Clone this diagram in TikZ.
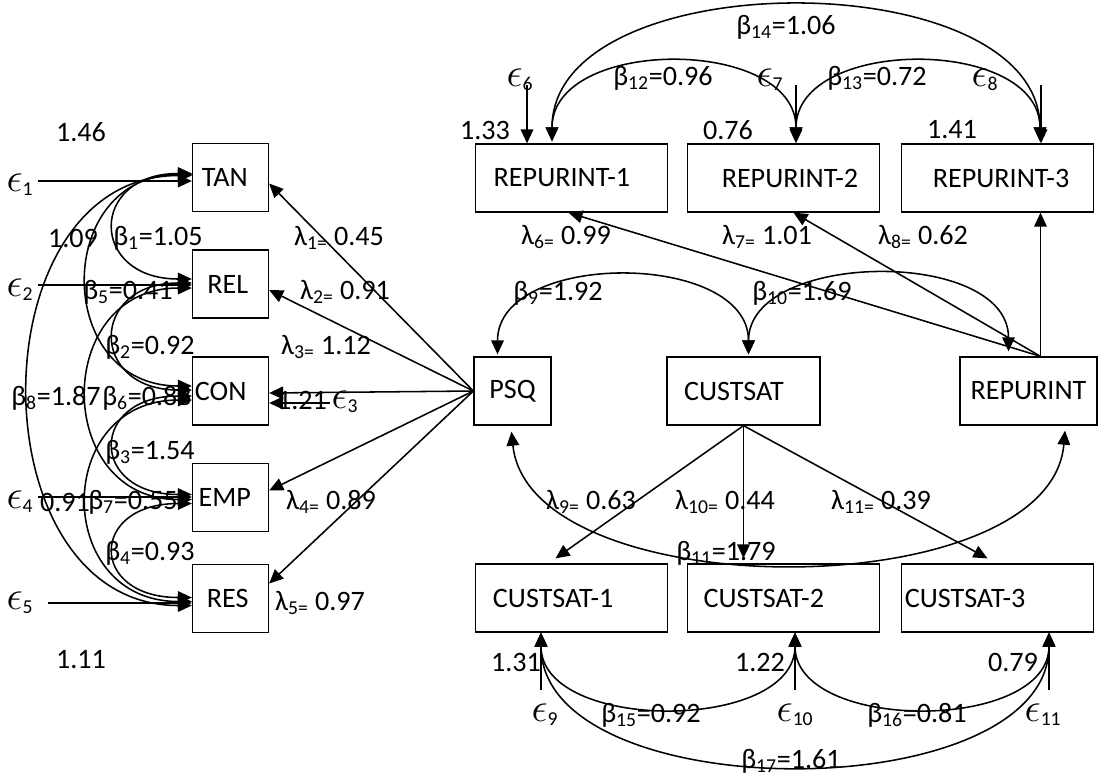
\documentclass[tikz,border=0pt]{standalone}
\usepackage{fontspec}
\usepackage{graphicx}
\setmainfont{Carlito}
\usetikzlibrary{arrows.meta,calc}

\newcommand\epsl[1]{\scalebox{1.4}{$\epsilon$}\textsubscript{#1}}
\newcommand\offtext[2]{\makebox[0pt]{\hspace*{#1}#2\hspace*{-#1}}}

\begin{document}
\begin{tikzpicture}[x=0.025cm, y=-0.025cm, font=\fontsize{20}{24}\selectfont,
  box/.style={draw, line width=0.9pt, minimum height=1.7cm, inner sep=0pt},
  item/.style={box, minimum width=1.9cm},
  ind/.style={box, minimum width=4.8cm},
  lab/.style={inner sep=0pt},
  arr/.style={-{Triangle[length=10pt,width=9pt]}, line width=1.1pt},
  cov/.style={{Triangle[length=10pt,width=9pt]}-{Triangle[length=10pt,width=9pt]}, line width=1.1pt}]

\useasboundingbox (0,0) rectangle (1103,778);

% service quality items
\node[item] (TAN) at (230.5,177.5) {\offtext{-4pt}{TAN}};
\node[item] (REL) at (230.5,284) {\offtext{-2pt}{REL}};
\node[item] (CON) at (230.5,391) {\offtext{-7pt}{CON}};
\node[item] (EMP) at (230.5,497.5) {\offtext{-4pt}{EMP}};
\node[item] (RES) at (230.5,598.5) {\offtext{-2pt}{RES}};

% constructs
\node[box, minimum width=1.925cm] (PSQ) at (512.5,391) {PSQ};
\node[box, minimum width=3.825cm] (CUSTSAT) at (743.5,391) {\offtext{-6.8pt}{CUSTSAT}};
\node[box, minimum width=3.425cm] (REPURINT) at (1028.5,391) {REPURINT};

% indicators
\node[ind] (R1) at (571.5,178) {\offtext{-6.8pt}{REPURINT-1}};
\node[ind] (R2) at (783.5,178) {\offtext{4.6pt}{REPURINT-2}};
\node[ind] (R3) at (997.5,178) {\offtext{2.5pt}{REPURINT-3}};
\node[ind] (C1) at (571.5,598) {\offtext{-13pt}{CUSTSAT-1}};
\node[ind] (C2) at (783.5,598) {\offtext{-14pt}{CUSTSAT-2}};
\node[ind] (C3) at (997.5,598) {\offtext{-23pt}{CUSTSAT-3}};

% error terms, left
\node[lab] (e1) at (20,185) {\epsl{1}};
\node[lab] (e2) at (20,290) {\epsl{2}};
\node[lab] (e3) at (345,402) {\epsl{3}};
\node[lab] (e4) at (20,502) {\epsl{4}};
\node[lab] (e5) at (20,603) {\epsl{5}};
\coordinate (s1) at (38,181);
\coordinate (s2) at (38,285);
\coordinate (s3) at (330,403);
\coordinate (s4) at (38,497);
\coordinate (s5) at (48,603);
\draw[arr] (s1) -- (s1 -| TAN.west);
\draw[arr] (s2) -- (s2 -| REL.west);
\draw[arr] (s3) -- (s3 -| CON.east);
\draw[arr] (s4) -- (s4 -| EMP.west);
\draw[arr] (s5) -- (s5 -| RES.west);

% error terms, right
\node[lab] (e6) at (520,80) {\epsl{6}};
\node[lab] (e7) at (770,80) {\epsl{7}};
\node[lab] (e8) at (985,80) {\epsl{8}};
\node[lab] (e9) at (545,715) {\epsl{9}};
\node[lab] (e10) at (795,715) {\epsl{10}};
\node[lab] (e11) at (1043,715) {\epsl{11}};
\coordinate (s6) at (527,85);
\coordinate (s7) at (796,85);
\coordinate (s8) at (1041,85);
\coordinate (s9) at (541,690);
\coordinate (s10) at (795,690);
\coordinate (s11) at (1049,690);
\draw[arr] (s6) -- (s6 |- R1.north);
\draw[arr] (s7) -- (s7 |- R2.north);
\draw[arr] (s8) -- (s8 |- R3.north);
\draw[arr] (s9) -- (s9 |- C1.south);
\draw[arr] (s10) -- (s10 |- C2.south);
\draw[arr] (s11) -- (s11 |- C3.south);

% error variances
\node[lab] (var1) at (81,132) {1.46};
\node[lab] (var2) at (73,238) {1.09};
\node[lab] (var3) at (302,400) {1.21};
\node[lab] (var4) at (65,502) {0.91};
\node[lab] (var5) at (81,660) {1.11};
\node[lab] (var6) at (485,130) {1.33};
\node[lab] (var7) at (728,130) {0.76};
\node[lab] (var8) at (952,130) {1.41};
\node[lab] (var9) at (516,662) {1.31};
\node[lab] (var10) at (760,662) {1.22};
\node[lab] (var11) at (1013,662) {0.79};

% loadings
\draw[arr] (PSQ.west) -- ($(TAN.east)+(0,6)$);
\draw[arr] (PSQ.west) -- ($(REL.east)+(0,6)$);
\draw[arr] (PSQ.west) -- ($(CON.east)+(0,2)$);
\draw[arr] (PSQ.west) -- ($(EMP.east)+(0,-7)$);
\draw[arr] (PSQ.west) -- ($(RES.east)+(0,-15)$);
\coordinate (rtop) at ($(REPURINT.north)+(12,0)$);
\draw[arr] (rtop) -- ($(R1.south)+(-3,0)$);
\draw[arr] (rtop) -- ($(R2.south)+(10,0)$);
\draw[arr] (rtop) -- (rtop |- R3.south);
\draw[arr] (CUSTSAT.south) -- ($(C1.north)+(-16,-5)$);
\draw[arr] (CUSTSAT.south) -- ($(CUSTSAT.south |- C2.north)+(0,-5)$);
\draw[arr] (CUSTSAT.south) -- ($(C3.north)+(-10,-5)$);

\node[lab] (l1) at (339,238) {λ\textsubscript{1=} 0.45};
\node[lab] (l2) at (345,292) {λ\textsubscript{2=} 0.91};
\node[lab] (l3) at (326,347) {λ\textsubscript{3=} 1.12};
\node[lab] (l4) at (331,502) {λ\textsubscript{4=} 0.89};
\node[lab] (l5) at (320,603) {λ\textsubscript{5=} 0.97};
\node[lab] (l6) at (566,237) {λ\textsubscript{6=} 0.99};
\node[lab] (l7) at (767,237) {λ\textsubscript{7=} 1.01};
\node[lab] (l8) at (923,237) {λ\textsubscript{8=} 0.62};
\node[lab] (l9) at (591,502) {λ\textsubscript{9=} 0.63};
\node[lab] (l10) at (725,502) {λ\textsubscript{10=} 0.44};
\node[lab] (l11) at (881,502) {λ\textsubscript{11=} 0.39};

% covariances among items
\draw[cov] ($(TAN.west)+(0,-4)$) .. controls +(-103,0) and +(-103,0) .. ($(REL.west)+(0,-5)$);
\draw[cov] ($(TAN.west)+(0,-3)$) .. controls +(-139,0) and +(-139,0) .. ($(CON.west)+(0,-5)$);
\draw[cov] ($(TAN.west)+(0,-2)$) .. controls +(-217,0) and +(-217,0) .. ($(RES.west)+(0,7)$);
\draw[cov] ($(REL.west)+(0,-1)$) .. controls +(-103,0) and +(-103,0) .. ($(CON.west)+(0,-1)$);
\draw[cov] ($(REL.west)+(0,4)$) .. controls +(-139,0) and +(-139,0) .. ($(EMP.west)+(0,2)$);
\draw[cov] ($(CON.west)+(0,5)$) .. controls +(-103,0) and +(-103,0) .. ($(EMP.west)+(0,-3)$);
\draw[cov] ($(CON.west)+(0,9)$) .. controls +(-139,0) and +(-139,0) .. ($(RES.west)+(0,3)$);
\draw[cov] ($(EMP.west)+(0,6)$) .. controls +(-103,0) and +(-103,0) .. ($(RES.west)+(0,-1)$);

% covariances among constructs and indicators
\draw[cov] ($(PSQ.north)+(-15,-2)$) .. controls +(0,-104) and +(0,-104) .. ($(CUSTSAT.north)+(5,-2)$);
\draw[cov] ($(CUSTSAT.north)+(5,-2)$) .. controls +(0,-104) and +(0,-104) .. ($(REPURINT.north)+(-20,-5)$);
\draw[cov] ($(PSQ.south)+(-1,6)$) .. controls +(18,176) and +(-15,177) .. ($(REPURINT.south)+(36.5,5)$);
\draw[cov] ($(R1.north)+(-19.5,-2)$) .. controls +(0,-105) and +(0,-105) .. ($(R2.north)+(12.5,-2)$);
\draw[cov] ($(R2.north)+(12.5,-2)$) .. controls +(0,-105) and +(0,-105) .. ($(R3.north)+(42.5,-2)$);
\draw[cov] ($(R1.north)+(-19.5,-2)$) .. controls +(0,-180) and +(0,-180) .. ($(R3.north)+(42.5,-2)$);
\draw[cov] ($(C1.south)+(-30.5,0)$) .. controls +(0,100) and +(0,100) .. ($(C2.south)+(11.5,0)$);
\draw[cov] ($(C2.south)+(11.5,0)$) .. controls +(0,100) and +(0,100) .. ($(C3.south)+(51.5,0)$);
\draw[cov] ($(C1.south)+(-30.5,0)$) .. controls +(0,177) and +(0,177) .. ($(C3.south)+(51.5,0)$);

\node[lab] (b1) at (158,238) {β\textsubscript{1}=1.05};
\node[lab] (b2) at (150,347) {β\textsubscript{2}=0.92};
\node[lab] (b3) at (150,452) {β\textsubscript{3}=1.54};
\node[lab] (b4) at (150,553) {β\textsubscript{4}=0.93};
\node[lab] (b5) at (128,292) {β\textsubscript{5}=0.41};
\node[lab] (b6) at (147,398) {β\textsubscript{6}=0.88};
\node[lab] (b7) at (133,502) {β\textsubscript{7}=0.55};
\node[lab] (b8) at (56,398) {β\textsubscript{8}=1.87};
\node[lab] (b9) at (558,293) {β\textsubscript{9}=1.92};
\node[lab] (b10) at (802,293) {β\textsubscript{10}=1.69};
\node[lab] (b11) at (726,553) {β\textsubscript{11}=1.79};
\node[lab] (b12) at (663,78) {β\textsubscript{12}=0.96};
\node[lab] (b13) at (877,78) {β\textsubscript{13}=0.72};
\node[lab] (b14) at (786,27) {β\textsubscript{14}=1.06};
\node[lab] (b15) at (651,715) {β\textsubscript{15}=0.92};
\node[lab] (b16) at (917,715) {β\textsubscript{16}=0.81};
\node[lab] (b17) at (791,761) {β\textsubscript{17}=1.61};
\end{tikzpicture}
\end{document}
